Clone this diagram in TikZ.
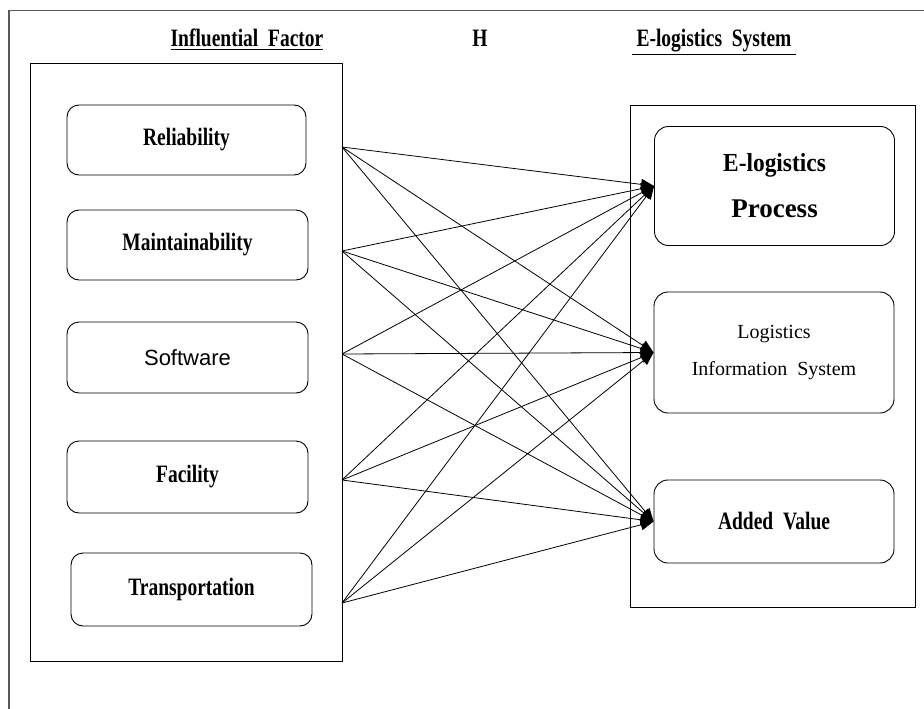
\documentclass[tikz,border=0pt]{standalone}
\usepackage{fontspec}
\setmainfont{Liberation Serif}
\newfontfamily\condbf{Liberation Serif}[FakeStretch=0.78]
\newfontfamily\procfont{Liberation Serif}[FakeStretch=0.9]
\newfontfamily\swfont{Liberation Sans}
\usepackage{tikz}
\usetikzlibrary{arrows.meta}

\begin{document}
\begin{tikzpicture}
  [
    x = 1pt, y = -1pt,
    every node/.style = {inner sep=0pt},
    title/.style = {anchor=base, font=\condbf\bfseries\fontsize{25}{30}\selectfont},
    factor/.style = {draw, rounded corners=12pt, line width=0.9pt,
                     minimum width=241pt, minimum height=71pt,
                     font=\condbf\bfseries\fontsize{25}{30}\selectfont},
    system/.style = {draw, rounded corners=14pt, line width=0.9pt,
                     minimum width=240pt, align=center},
    frame/.style = {draw, line width=0.9pt},
    link/.style = {line width=0.8pt, -{Triangle[length=13pt,width=11pt]}}
  ]
  \useasboundingbox (0,0) rectangle (924,709);
  % page frame
  \draw [line width=1.5pt, black!65] (9,709) -- (9,10.5) -- (924,10.5);

  % headings
  \node [title] (hdF) at (247,47) {\underline{Influential\ \ Factor}};
  \node [title] (hdH) at (480,47) {H};
  \node [title] (hdS) at (714,47) {\underline{\ E-logistics\ \ System\ }};

  % two groups
  \draw [frame] (30,63) rectangle (342,661);
  \draw [frame] (630,105) rectangle (915,607);

  % influential factors
  \node [factor, minimum width=239pt, minimum height=70pt] (rel) at (186.5,140) {Reliability};
  \node [factor, minimum height=70pt] (mnt) at (187.5,245) {Maintainability};
  \node [factor, font=\swfont\fontsize{22}{26}\selectfont] (sw) at (187.5,357.5) {Software};
  \node [factor, minimum height=72pt] (fac) at (187.5,477) {Facility};
  \node [factor, minimum height=73pt] (trn) at (191.5,589.5) {Transportation};

  % e-logistics system
  \node [system, minimum height=119pt, font=\fontsize{26}{46}\selectfont] (proc) at (774.5,186)
    {{\procfont\bfseries E-logistics}\\
     {\bfseries\fontsize{27}{46}\selectfont Process}};
  \node [system, minimum height=121pt, font=\fontsize{20}{37}\selectfont] (lis) at (774,352.5)
    {Logistics\\Information\ \ System};
  \node [system, minimum height=83pt, font=\condbf\bfseries\fontsize{25}{30}\selectfont] (add) at (774,521.5)
    {Added\ \ Value};

  % sources on the factor group
  \coordinate (s1) at (342,147);
  \coordinate (s2) at (342,251);
  \coordinate (s3) at (342,354);
  \coordinate (s4) at (342,480);
  \coordinate (s5) at (342,603);

  \foreach \s in {s1,s2,s3,s4,s5}
    \foreach \t in {proc,lis,add}
      \draw [link] (\s) -- (\t.west);
\end{tikzpicture}
\end{document}
